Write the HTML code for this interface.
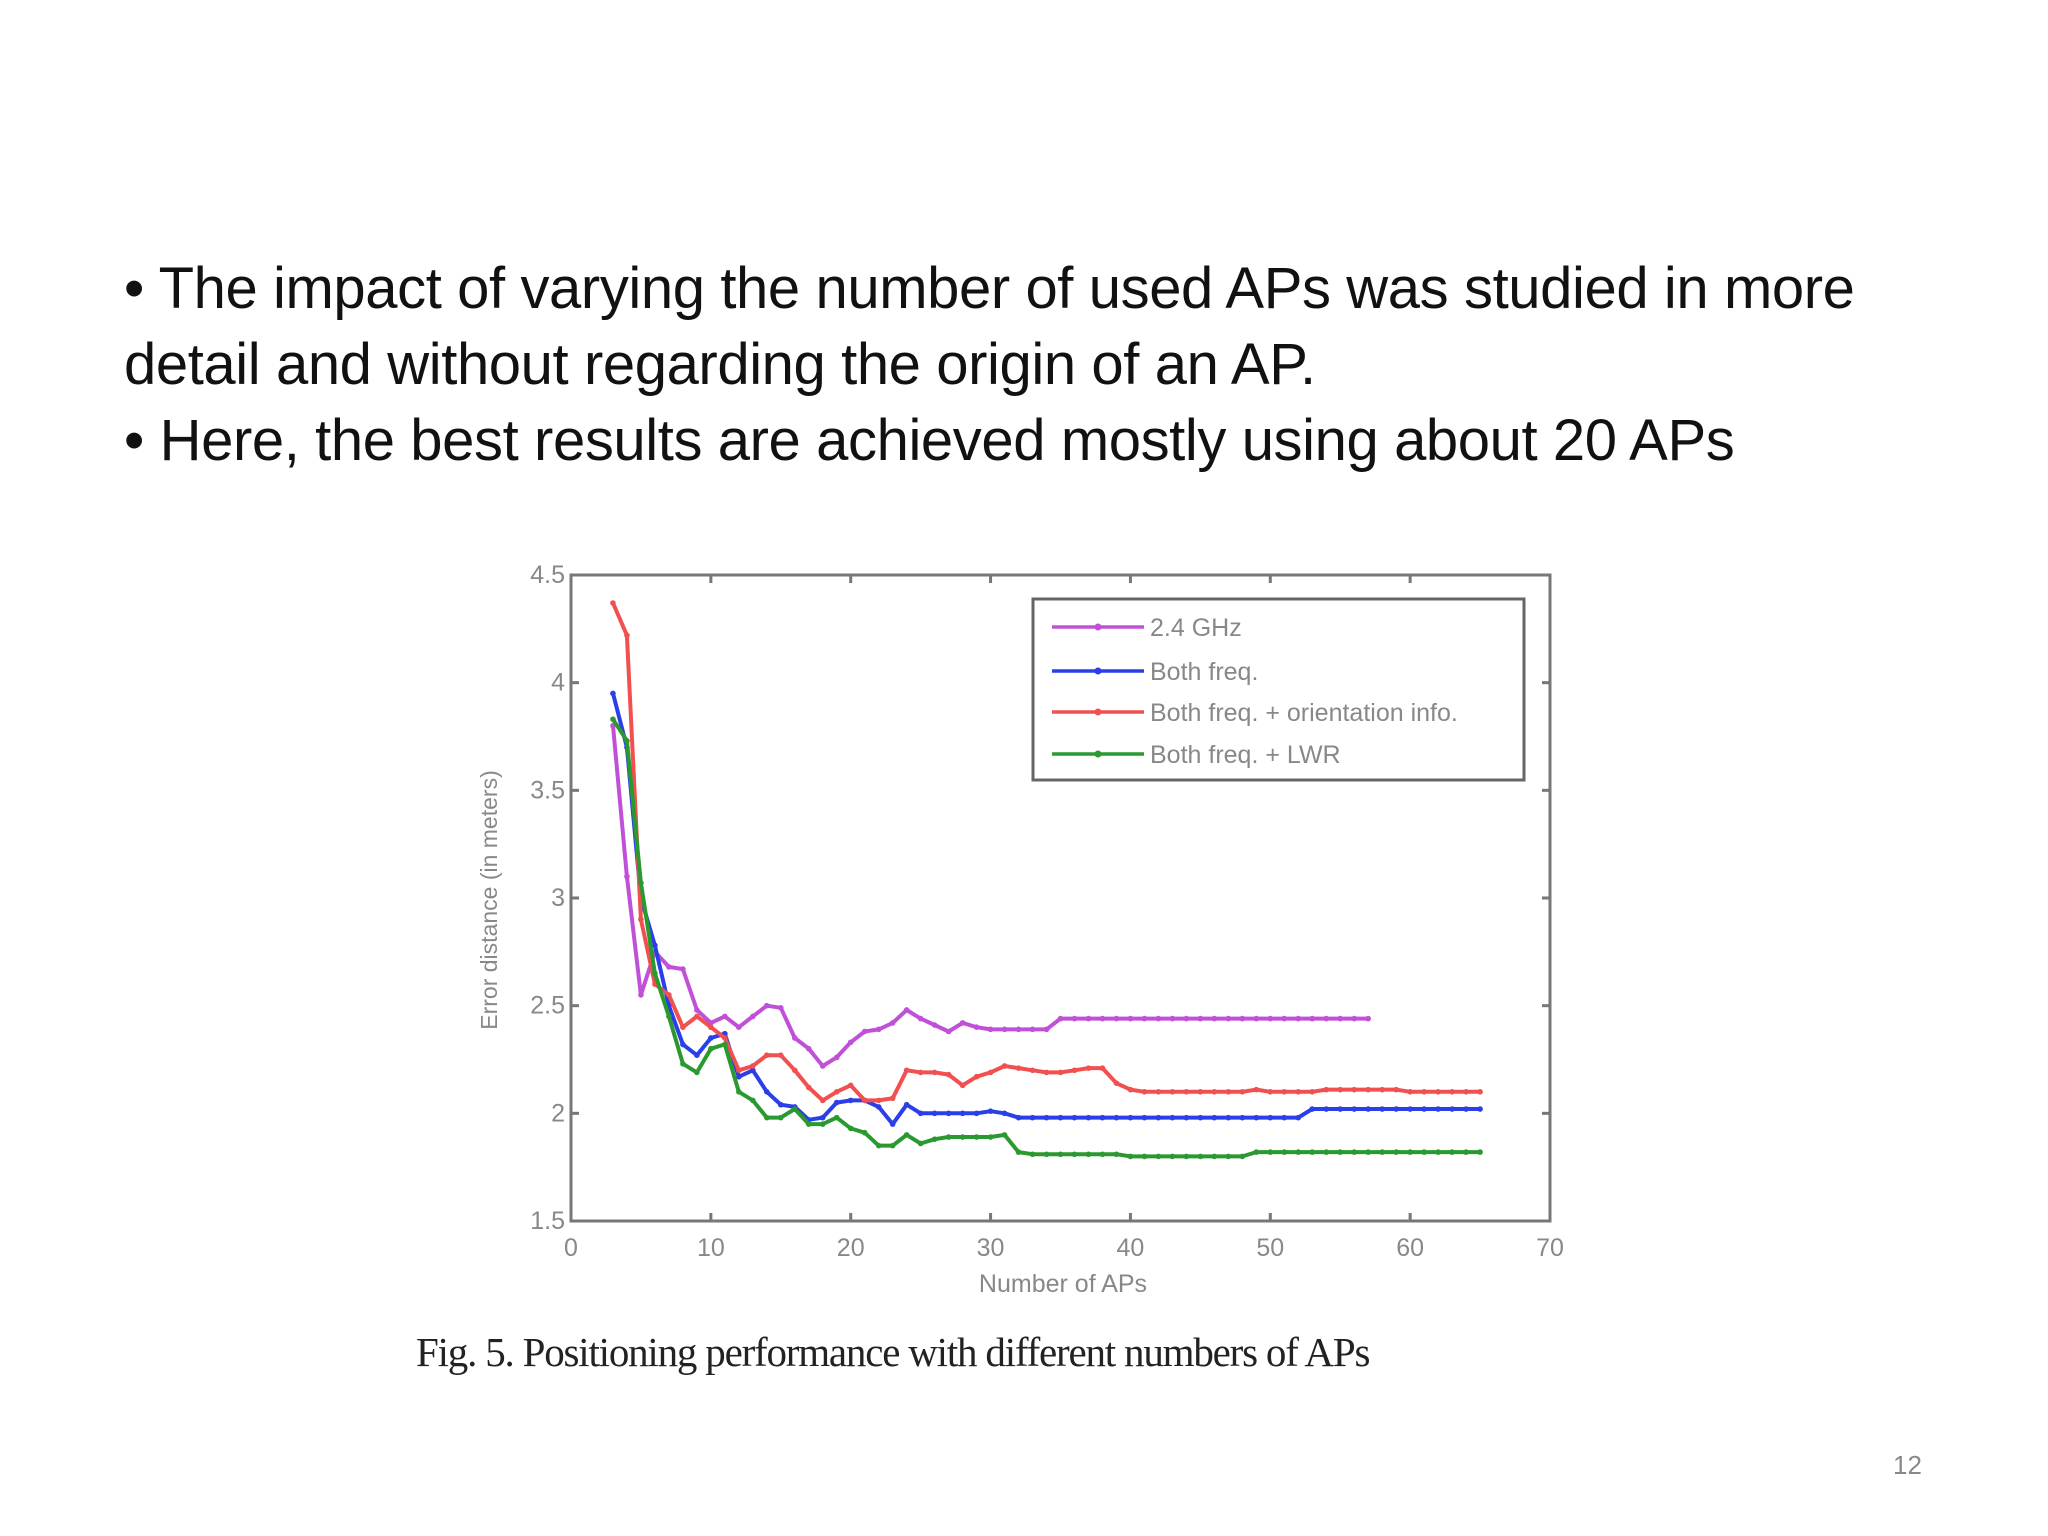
<!DOCTYPE html>
<html><head><meta charset="utf-8"><style>
body{margin:0;background:#fff;width:2048px;height:1536px;overflow:hidden;position:relative;font-family:"Liberation Sans",sans-serif}
.b{position:absolute;left:124px;font-family:"Liberation Sans",sans-serif;font-size:58px;color:#111;white-space:nowrap;letter-spacing:-0.4px}
</style></head><body>
<div class="b" style="top:255px">• The impact of varying the number of used APs was studied in more</div>
<div class="b" style="top:331px">detail and without regarding the origin of an AP.</div>
<div class="b" style="top:407px">• Here, the best results are achieved mostly using about 20 APs</div>
<svg id="chart" width="2048" height="1536" style="position:absolute;left:0;top:0"></svg>
<div style="position:absolute;left:416px;top:1328px;font-family:'Liberation Serif',serif;font-size:41px;color:#222;letter-spacing:-1.2px;white-space:nowrap">Fig. 5. Positioning performance with different numbers of APs</div>
<div style="position:absolute;left:1893px;top:1450px;font-size:26px;color:#888">12</div>
<script>
const xTicks=[0,10,20,30,40,50,60,70];
const yTicks=[1.5,2,2.5,3,3.5,4,4.5];
const yTickLabels=["1.5","2","2.5","3","3.5","4","4.5"];
const seriesNames=["2.4 GHz","Both freq.","Both freq. + orientation info.","Both freq. + LWR"];
const ghz24=[3.8,3.1,2.55,2.75,2.68,2.67,2.48,2.42,2.45,2.40,2.45,2.50,2.49,2.35,2.30,2.22,2.26,2.33,2.38,2.39,2.42,2.48,2.44,2.41,2.38,2.42,2.40,2.39,2.39,2.39,2.39,2.39,2.44,2.44,2.44,2.44,2.44,2.44,2.44,2.44,2.44,2.44,2.44,2.44,2.44,2.44,2.44,2.44,2.44,2.44,2.44,2.44,2.44,2.44,2.44];
const bothFreq=[3.95,3.70,3.0,2.78,2.5,2.32,2.27,2.35,2.37,2.17,2.2,2.10,2.04,2.03,1.97,1.98,2.05,2.06,2.06,2.03,1.95,2.04,2.0,2.0,2.0,2.0,2.0,2.01,2.0,1.98,1.98,1.98,1.98,1.98,1.98,1.98,1.98,1.98,1.98,1.98,1.98,1.98,1.98,1.98,1.98,1.98,1.98,1.98,1.98,1.98,2.02,2.02,2.02,2.02,2.02,2.02,2.02,2.02,2.02,2.02,2.02,2.02,2.02];
const orient=[4.37,4.22,2.9,2.6,2.55,2.40,2.45,2.40,2.35,2.2,2.22,2.27,2.27,2.2,2.12,2.06,2.10,2.13,2.06,2.06,2.07,2.2,2.19,2.19,2.18,2.13,2.17,2.19,2.22,2.21,2.2,2.19,2.19,2.2,2.21,2.21,2.14,2.11,2.10,2.10,2.10,2.10,2.10,2.10,2.10,2.10,2.11,2.10,2.10,2.10,2.10,2.11,2.11,2.11,2.11,2.11,2.11,2.10,2.10,2.10,2.10,2.10,2.10];
const lwr=[3.83,3.73,3.07,2.65,2.45,2.23,2.19,2.3,2.32,2.1,2.06,1.98,1.98,2.02,1.95,1.95,1.98,1.93,1.91,1.85,1.85,1.90,1.86,1.88,1.89,1.89,1.89,1.89,1.90,1.82,1.81,1.81,1.81,1.81,1.81,1.81,1.81,1.80,1.80,1.80,1.80,1.80,1.80,1.80,1.80,1.80,1.82,1.82,1.82,1.82,1.82,1.82,1.82,1.82,1.82,1.82,1.82,1.82,1.82,1.82,1.82,1.82,1.82];
const startX=3;
const svg=document.getElementById('chart');const NS='http://www.w3.org/2000/svg';
const L=571,R=1550,T=575,B=1221;
const xs=v=>L+(v-0)/70*(R-L), ys=v=>B-(v-1.5)/3*(B-T);
function mk(t,a,p){const e=document.createElementNS(NS,t);for(const k in a)e.setAttribute(k,a[k]);(p||svg).appendChild(e);return e;}
const frame=mk('rect',{x:L,y:T,width:R-L,height:B-T,fill:'none',stroke:'#777','stroke-width':3});


xTicks.forEach(v=>{const x=xs(v);
mk('line',{x1:x,y1:B,x2:x,y2:B-8,stroke:'#777','stroke-width':3});mk('line',{x1:x,y1:T,x2:x,y2:T+8,stroke:'#777','stroke-width':3});
const t=mk('text',{x:x,y:B+35,'text-anchor':'middle','font-size':25,fill:'#888','font-family':'Liberation Sans'});t.textContent=v;

});
yTicks.forEach((v,i)=>{const y=ys(v);
mk('line',{x1:L,y1:y,x2:L+8,y2:y,stroke:'#777','stroke-width':3});mk('line',{x1:R,y1:y,x2:R-8,y2:y,stroke:'#777','stroke-width':3});
const t=mk('text',{x:L-6,y:y+8,'text-anchor':'end','font-size':25,fill:'#888','font-family':'Liberation Sans'});t.textContent=yTickLabels[i];

});
const xt=mk('text',{x:1063,y:1292,'text-anchor':'middle','font-size':25,fill:'#888','font-family':'Liberation Sans'});xt.textContent='Number of APs';


const yt=mk('text',{x:0,y:0,'text-anchor':'middle','font-size':23,fill:'#888','font-family':'Liberation Sans',transform:'translate(497,900) rotate(-90)'});yt.textContent='Error distance (in meters)';


const cols=['#c050d8','#2a3fe8','#f05050','#2a9a30'];
const data=[ghz24,bothFreq,orient,lwr];
const names=['series-2-4ghz','series-both-freq','series-orientation','series-lwr'];
data.forEach((d,si)=>{const g=mk('g',{});


const pts=d.map((v,i)=>xs(startX+i).toFixed(1)+','+ys(v).toFixed(1)).join(' ');
mk('polyline',{points:pts,fill:'none',stroke:cols[si],'stroke-width':4,'stroke-linejoin':'round'},g);
d.forEach((v,i)=>mk('circle',{cx:xs(startX+i),cy:ys(v),r:2.8,fill:cols[si]},g));});
const lg=mk('g',{});


mk('rect',{x:1033,y:599,width:491,height:181,fill:'#fff',stroke:'#666','stroke-width':3},lg);
[627,671,712,754].forEach((y,i)=>{mk('line',{x1:1052,y1:y,x2:1144,y2:y,stroke:cols[i],'stroke-width':3.5},lg);
mk('circle',{cx:1098,cy:y,r:3.5,fill:cols[i]},lg);
const t=mk('text',{x:1150,y:y+9,'font-size':25,fill:'#888','font-family':'Liberation Sans'},lg);t.textContent=seriesNames[i];

});
</script>
</body></html>
